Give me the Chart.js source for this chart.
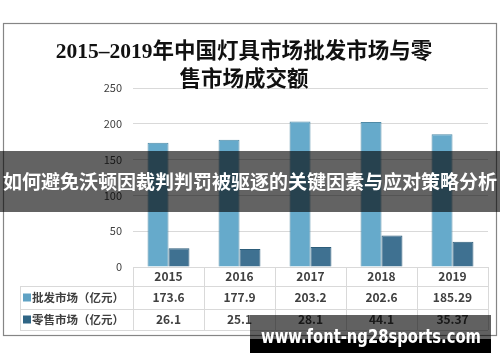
<!DOCTYPE html>
<html>
<head>
<meta charset="utf-8">
<script src="https://cdn.jsdelivr.net/npm/chart.js@4"></script>
<style>
  html, body { margin: 0; padding: 0; background: #fff; }
  #wrap { width: 500px; height: 362px; position: relative; }
</style>
</head>
<body>
<div id="wrap"><canvas id="chart" width="500" height="362"></canvas></div>
<script>
// 数据
const years = ['2015', '2016', '2017', '2018', '2019'];
const wholesale = [173.6, 177.9, 203.2, 202.6, 185.29];
const retail = [26.1, 25.1, 28.1, 44.1, 35.37];
const wholesaleText = ['173.6', '177.9', '203.2', '202.6', '185.29'];
const retailText = ['26.1', '25.1', '28.1', '44.1', '35.37'];
const seriesNames = ['批发市场（亿元）', '零售市场（亿元）'];
const titleLines = ['2015–2019年中国灯具市场批发市场与零', '售市场成交额'];
const bannerText = '如何避免沃顿因裁判判罚被驱逐的关键因素与应对策略分析';
const watermarkText = 'www.font-ng28sports.com';

const CJK = '"Noto Sans CJK SC", "Noto Sans", sans-serif';
const textColor = '#404040';
const lineColor = '#d9d9d9';

function barGradient(ctx, light, dark) {
  const { chart } = ctx;
  const el = ctx.element;
  if (!chart.chartArea || !el) return light;
  const x0 = el.x - el.width / 2, x1 = el.x + el.width / 2;
  if (![x0, x1, el.y, el.base].every(Number.isFinite)) return light;
  const g = chart.ctx.createLinearGradient(x0, el.y, x1, el.base);
  g.addColorStop(0, light);
  g.addColorStop(1, dark);
  return g;
}

// 外框
const frame = {
  id: 'frame',
  beforeDraw(chart) {
    const c = chart.ctx;
    c.save();
    c.fillStyle = '#fff';
    c.fillRect(0, 0, chart.width, chart.height);
    c.strokeStyle = '#858585';
    c.lineWidth = 1.2;
    c.strokeRect(3.5, 23.5, 493, 312);
    c.restore();
  }
};

// 数据表（年份 + 数值）
const dataTable = {
  id: 'dataTable',
  afterDatasetsDraw(chart) {
    const c = chart.ctx;
    const xs = chart.scales.x;
    const area = chart.chartArea;
    const step = xs.getPixelForValue(1) - xs.getPixelForValue(0);
    const left = area.left, right = area.right;
    const rows = [area.bottom, 286, 309, 330];
    const labelLeft = 20;

    c.save();
    c.strokeStyle = lineColor;
    c.lineWidth = 1;
    // 横线
    c.beginPath();
    c.moveTo(left, rows[0] + 0.5); c.lineTo(right, rows[0] + 0.5);
    for (let i = 1; i < rows.length; i++) {
      c.moveTo(labelLeft, rows[i] + 0.5); c.lineTo(right, rows[i] + 0.5);
    }
    // 竖线
    for (let i = 0; i <= years.length; i++) {
      const x = Math.round(left + i * step) + 0.5;
      c.moveTo(x, rows[0]); c.lineTo(x, rows[3]);
    }
    c.moveTo(labelLeft + 0.5, rows[1]); c.lineTo(labelLeft + 0.5, rows[3]);
    c.stroke();

    c.fillStyle = textColor;
    c.textAlign = 'center';
    c.textBaseline = 'middle';
    c.font = 'bold 12px ' + CJK;
    years.forEach((y, i) => {
      const x = xs.getPixelForValue(i);
      c.fillText(y, x, (rows[0] + rows[1]) / 2);
      c.fillText(wholesaleText[i], x, (rows[1] + rows[2]) / 2);
      c.fillText(retailText[i], x, (rows[2] + rows[3]) / 2);
    });

    // 图例方块 + 系列名
    const keyColors = ['#5fa2c4', '#2f6585'];
    c.textAlign = 'left';
    c.font = 'bold 11.5px ' + CJK;
    seriesNames.forEach((name, i) => {
      const cy = (rows[i + 1] + rows[i + 2]) / 2;
      c.fillStyle = keyColors[i];
      c.fillRect(23, cy - 4, 8, 8);
      c.fillStyle = textColor;
      c.fillText(name, 32, cy);
    });
    c.restore();
  }
};

// 覆盖层：横幅与水印
const overlay = {
  id: 'overlay',
  afterDraw(chart) {
    const c = chart.ctx;
    c.save();
    c.fillStyle = 'rgba(0,0,0,0.61)';
    c.fillRect(0, 151, 500, 61);
    c.fillStyle = '#fff';
    c.font = 'bold 19px ' + CJK;
    c.textAlign = 'center';
    c.textBaseline = 'middle';
    c.fillText(bannerText, 250, 182, 496);

    c.fillStyle = 'rgba(0,0,0,0.62)';
    c.fillRect(250, 315, 241, 24);
    c.fillStyle = '#000';
    c.fillRect(250, 339, 241, 14);
    c.fillStyle = '#fff';
    c.font = 'bold 20px "DejaVu Sans", sans-serif';
    c.textBaseline = 'alphabetic';
    c.fillText(watermarkText, 371, 343, 220);
    c.restore();
  }
};

new Chart(document.getElementById('chart'), {
  type: 'bar',
  data: {
    labels: years,
    datasets: [
      {
        label: seriesNames[0],
        data: wholesale,
        backgroundColor: ctx => barGradient(ctx, '#66aacb', '#5790aa'),
        borderColor: '#4f8aa6',
        borderWidth: 1,
        barPercentage: 1,
        categoryPercentage: 0.59,
      },
      {
        label: seriesNames[1],
        data: retail,
        backgroundColor: ctx => barGradient(ctx, '#3f7191', '#1c4f6b'),
        borderColor: '#2d5d7a',
        borderWidth: 1,
        barPercentage: 1,
        categoryPercentage: 0.59,
      },
    ],
  },
  options: {
    responsive: false,
    animation: false,
    layout: { padding: { top: 23, left: 0, right: 12, bottom: 87 } },
    plugins: {
      legend: { display: false },
      tooltip: { enabled: false },
      title: {
        display: true,
        text: titleLines,
        color: '#111',
        font: { family: '"Liberation Serif", "Noto Sans CJK SC", serif', size: 21.5, weight: 'bold', lineHeight: 1.28 },
        padding: { top: 16, bottom: -6 },
      },
    },
    scales: {
      x: {
        grid: { display: false },
        border: { display: false },
        ticks: { display: false },
      },
      y: {
        min: 0,
        max: 250,
        afterFit: s => { s.width = 133; },
        grid: { color: lineColor, drawTicks: false },
        border: { display: false },
        ticks: {
          stepSize: 50,
          padding: 11,
          color: textColor,
          font: { family: CJK, size: 11 },
        },
      },
    },
  },
  plugins: [frame, dataTable, overlay],
});
</script>
</body>
</html>
